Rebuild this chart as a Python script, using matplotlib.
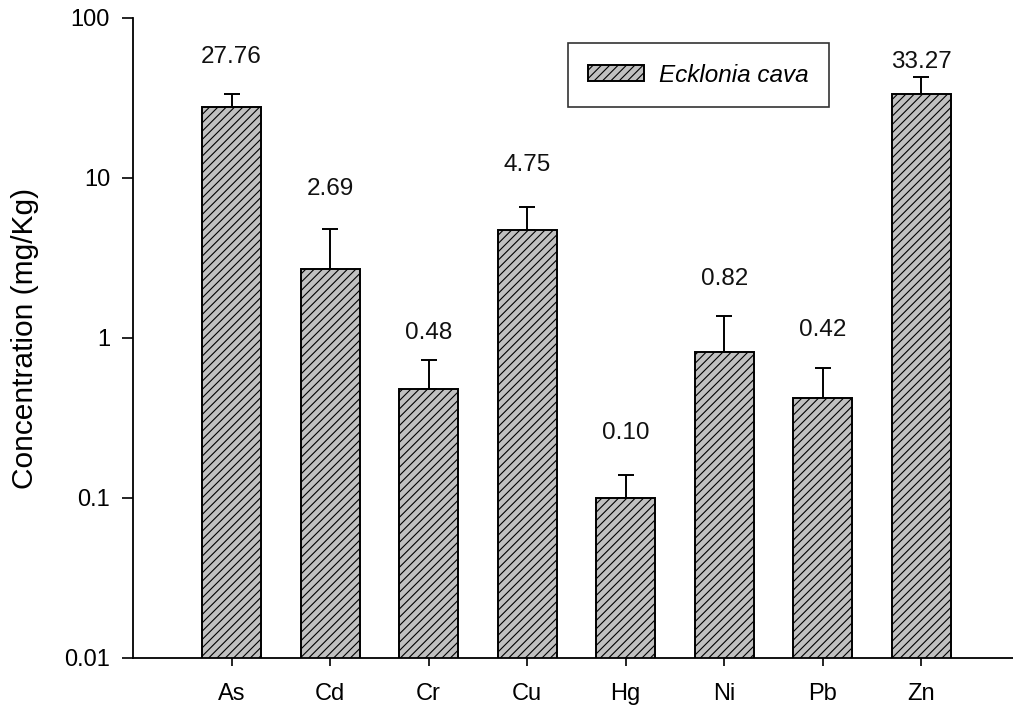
import matplotlib
matplotlib.use("Agg")
import matplotlib.pyplot as plt
import numpy as np

# Heavy-metal concentrations in Ecklonia cava (mean with upper SD)
metals = ["As", "Cd", "Cr", "Cu", "Hg", "Ni", "Pb", "Zn"]
conc = [27.76, 2.69, 0.48, 4.75, 0.10, 0.82, 0.42, 33.27]
sd = [5.7, 2.1, 0.25, 1.84, 0.04, 0.55, 0.23, 9.5]
value_labels = ["27.76", "2.69", "0.48", "4.75", "0.10", "0.82", "0.42", "33.27"]
yticks = [0.01, 0.1, 1, 10, 100]
ytick_labels = ["0.01", "0.1", "1", "10", "100"]
series_name = "Ecklonia cava"

# vertical gap (points) between each error-bar cap and its value label
label_gap = [27, 29, 19, 30, 30, 27, 27, 11]

plt.rcParams["font.family"] = ["Liberation Sans", "DejaVu Sans"]
plt.rcParams["hatch.linewidth"] = 0.8
plt.rcParams["hatch.color"] = "#333333"

fig = plt.figure(figsize=(10.13, 7.13), dpi=100)
ax = fig.add_axes([133 / 1013, 1 - 658 / 713, 880 / 1013, 640 / 713])

x = np.arange(len(metals))
bars = ax.bar(x, conc, width=0.6, color="#c0c0c0", edgecolor="black",
              linewidth=1.4, hatch="////", label=series_name, zorder=2)
ax.errorbar(x, conc, yerr=[np.zeros(len(sd)), sd], fmt="none",
            ecolor="black", elinewidth=1.4, capsize=6, capthick=1.4, zorder=1)

tops = np.array(conc) + np.array(sd)
for xi, top, txt, gap in zip(x, tops, value_labels, label_gap):
    ax.annotate(txt, (xi, top), xytext=(0, gap), textcoords="offset points",
                ha="center", va="center", fontsize=17.5, color="#111111")

ax.set_yscale("log")
ax.set_ylim(0.01, 100)
ax.set_xlim(-1, 7.93)
ax.set_yticks(yticks)
ax.set_yticklabels(ytick_labels)
ax.yaxis.set_minor_locator(matplotlib.ticker.NullLocator())
ax.set_xticks(x)
ax.set_xticklabels(metals)

ax.tick_params(axis="y", direction="out", length=8, width=1.2, pad=8.5,
               labelsize=17)
ax.tick_params(axis="x", direction="out", length=6, width=1.2, pad=12,
               labelsize=17)

for side in ("top", "right"):
    ax.spines[side].set_visible(False)
for side in ("left", "bottom"):
    ax.spines[side].set_linewidth(1.3)

ax.set_ylabel("Concentration (mg/Kg)", fontsize=21.5)
ax.yaxis.set_label_coords(-0.107, 0.5)

leg = ax.legend(loc="upper left", bbox_to_anchor=(0.494, 0.961),
                borderaxespad=0, fancybox=False, frameon=True,
                prop={"style": "italic", "size": 17.5},
                handlelength=2.3, handleheight=0.6, handletextpad=0.6,
                borderpad=0.85)
leg.get_frame().set_edgecolor("black")
leg.get_frame().set_linewidth(1.2)

fig.savefig("out.png", dpi=100)
